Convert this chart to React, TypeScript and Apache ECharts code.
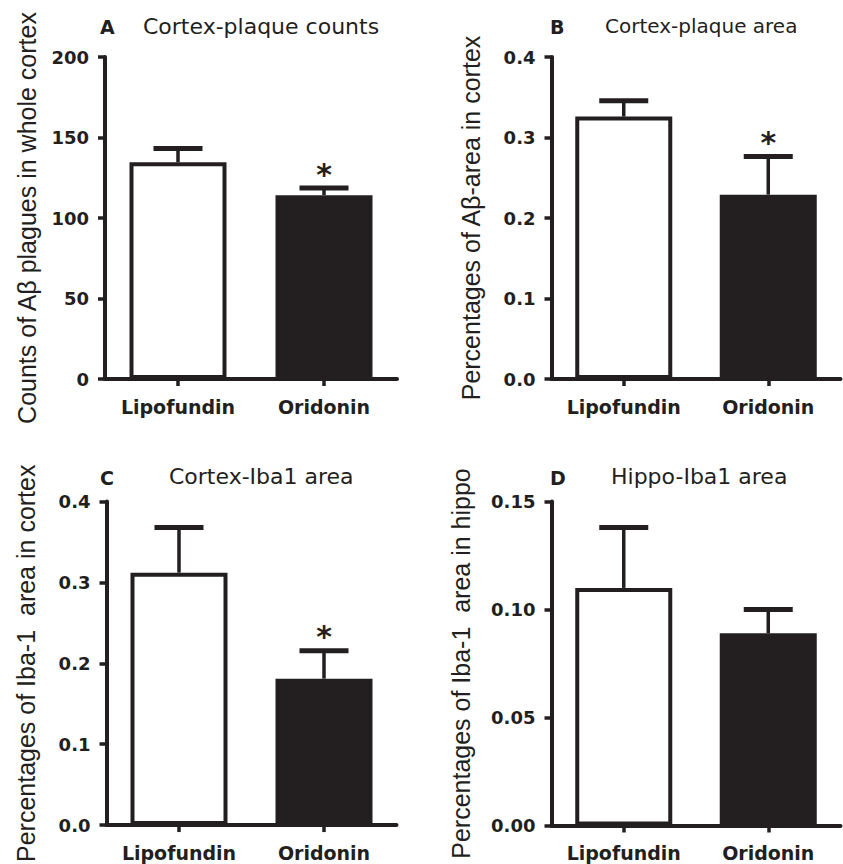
import React, { useEffect, useRef } from "react";
import * as echarts from "echarts";

const INK = "#231f20";

const categories = ["Lipofundin", "Oridonin"];

// Panel A: Cortex-plaque counts
const countsMean = [134.6, 114.2];
const countsSem = [8.6, 4.4];
const countsSig = [false, true];

// Panel B: Cortex-plaque area
const plaqueAreaMean = [0.326, 0.229];
const plaqueAreaSem = [0.0195, 0.0475];
const plaqueAreaSig = [false, true];

// Panel C: Cortex-Iba1 area
const cortexIbaMean = [0.312, 0.181];
const cortexIbaSem = [0.056, 0.0345];
const cortexIbaSig = [false, true];

// Panel D: Hippo-Iba1 area
const hippoIbaMean = [0.11, 0.089];
const hippoIbaSem = [0.028, 0.011];
const hippoIbaSig = [false, false];

const panels = [
  {
    letter: "A",
    title: "Cortex-plaque counts",
    yName: "Counts of A\u03b2 plagues in whole cortex",
    mean: countsMean,
    sem: countsSem,
    sig: countsSig,
    max: 200,
    interval: 50,
    decimals: 0,
  },
  {
    letter: "B",
    title: "Cortex-plaque area",
    yName: "Percentages of A\u03b2-area in cortex",
    mean: plaqueAreaMean,
    sem: plaqueAreaSem,
    sig: plaqueAreaSig,
    max: 0.4,
    interval: 0.1,
    decimals: 1,
  },
  {
    letter: "C",
    title: "Cortex-Iba1 area",
    yName: "Percentages of Iba-1  area in cortex",
    mean: cortexIbaMean,
    sem: cortexIbaSem,
    sig: cortexIbaSig,
    max: 0.4,
    interval: 0.1,
    decimals: 1,
  },
  {
    letter: "D",
    title: "Hippo-Iba1 area",
    yName: "Percentages of Iba-1  area in hippo",
    mean: hippoIbaMean,
    sem: hippoIbaSem,
    sig: hippoIbaSig,
    max: 0.15,
    interval: 0.05,
    decimals: 2,
  },
];

// layout (pixels)
const grids = [
  { left: 105, top: 57, width: 292, height: 322 },
  { left: 551.5, top: 57, width: 289, height: 322 },
  { left: 106.5, top: 501.5, width: 290, height: 324 },
  { left: 551.5, top: 501.5, width: 289, height: 324 },
];
const nameGaps = [66, 68, 68, 78];
const letterPos = [
  { left: 100, top: 17 },
  { left: 550, top: 17 },
  { left: 100, top: 468 },
  { left: 550, top: 468 },
];
const titlePos = [
  { left: 143, top: 15, size: 22 },
  { left: 605, top: 16, size: 20 },
  { left: 169, top: 465, size: 22 },
  { left: 611, top: 465, size: 22 },
];

export default function App() {
  const ref = useRef<HTMLDivElement>(null);

  useEffect(() => {
    if (!ref.current) return;
    const chart = echarts.init(ref.current, undefined, { renderer: "svg" });

    const title: any[] = [];
    const xAxis: any[] = [];
    const yAxis: any[] = [];
    const series: any[] = [];

    panels.forEach((p, i) => {
      title.push({
        text: p.letter,
        left: letterPos[i].left,
        top: letterPos[i].top,
        padding: 0,
        textStyle: {
          fontFamily: "DejaVu Sans",
          fontWeight: "bold",
          fontSize: 19,
          lineHeight: 19,
          color: INK,
        },
      });
      title.push({
        text: p.title,
        left: titlePos[i].left,
        top: titlePos[i].top,
        padding: 0,
        textStyle: {
          fontFamily: "DejaVu Sans",
          fontWeight: "normal",
          fontSize: titlePos[i].size,
          lineHeight: titlePos[i].size,
          color: INK,
        },
      });
      xAxis.push({
        type: "category",
        gridIndex: i,
        data: categories,
        axisLine: { show: true, lineStyle: { color: INK, width: 4 } },
        axisTick: {
          show: true,
          alignWithLabel: true,
          interval: 0,
          length: 7,
          lineStyle: { color: INK, width: 3.5 },
        },
        axisLabel: {
          interval: 0,
          margin: 18,
          fontFamily: "DejaVu Sans",
          fontWeight: "bold",
          fontSize: 19,
          color: INK,
        },
        splitLine: { show: false },
      });
      yAxis.push({
        type: "value",
        gridIndex: i,
        min: 0,
        max: p.max,
        interval: p.interval,
        name: p.yName,
        nameLocation: "middle",
        nameRotate: 90,
        nameGap: nameGaps[i],
        nameTextStyle: {
          fontFamily: "Liberation Sans",
          fontSize: 25,
          lineHeight: 25,
          color: INK,
        },
        axisLine: { show: true, lineStyle: { color: INK, width: 4 } },
        axisTick: { show: true, length: 7, lineStyle: { color: INK, width: 3.5 } },
        axisLabel: {
          margin: 16,
          fontFamily: "DejaVu Sans",
          fontWeight: "bold",
          fontSize: 18,
          color: INK,
          formatter: (v: number) => v.toFixed(p.decimals),
        },
        splitLine: { show: false },
      });
      series.push({
        type: "bar",
        xAxisIndex: i,
        yAxisIndex: i,
        barWidth: 97,
        data: p.mean.map((m, j) => ({
          value: m,
          itemStyle: {
            color: j === 0 ? "#ffffff" : INK,
            borderColor: INK,
            borderWidth: 4,
          },
        })),
      });
      series.push({
        type: "custom",
        xAxisIndex: i,
        yAxisIndex: i,
        z: 5,
        encode: { x: 0, y: [1, 2] },
        data: p.mean.map((m, j) => [j, m, m + p.sem[j], p.sig[j] ? 1 : 0]),
        renderItem: (params: any, api: any) => {
          const x = api.value(0);
          const mean = api.value(1);
          const up = api.value(2);
          const sig = api.value(3);
          const base = api.coord([x, mean]);
          const top = api.coord([x, up]);
          const children: any[] = [
            {
              type: "line",
              shape: { x1: base[0], y1: base[1], x2: top[0], y2: top[1] },
              style: { stroke: INK, lineWidth: 3.5 },
            },
            {
              type: "line",
              shape: { x1: top[0] - 24.5, y1: top[1], x2: top[0] + 24.5, y2: top[1] },
              style: { stroke: INK, lineWidth: 5 },
            },
          ];
          if (sig) {
            children.push({
              type: "text",
              x: top[0],
              y: top[1] - 14,
              style: {
                text: "*",
                fontFamily: "DejaVu Sans",
                fontWeight: "bold",
                fontSize: 30,
                fill: INK,
                align: "center",
                verticalAlign: "middle",
              },
            });
          }
          return { type: "group", children };
        },
      });
    });

    chart.setOption({
      animation: false,
      backgroundColor: "#ffffff",
      title,
      grid: grids.map((g) => ({ ...g, containLabel: false })),
      xAxis,
      yAxis,
      series,
    });

    return () => {
      chart.dispose();
    };
  }, []);

  return (
    <div
      ref={ref}
      style={{ position: "absolute", left: 0, top: 0, width: 843, height: 864 }}
    />
  );
}
